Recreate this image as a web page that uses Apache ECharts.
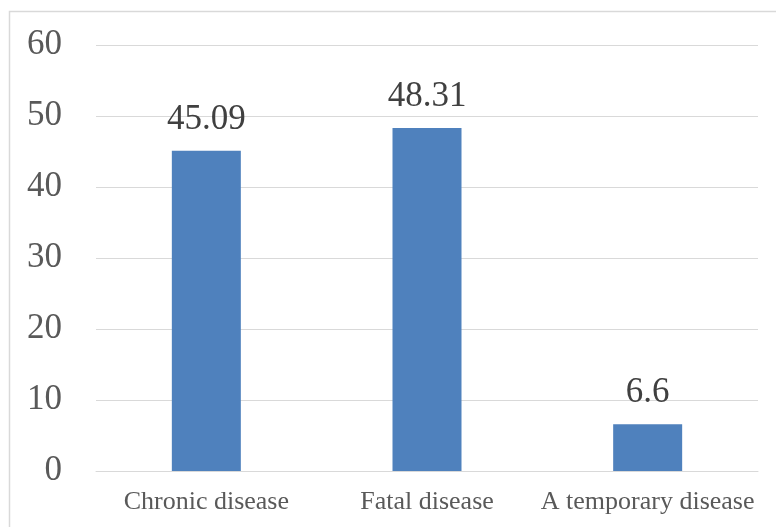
<!DOCTYPE html>
<html>
<head>
<meta charset="utf-8">
<script src="https://cdn.jsdelivr.net/npm/echarts@6/dist/echarts.min.js"></script>
<style>
  html, body { margin: 0; padding: 0; background: #ffffff; }
  #chart { width: 776px; height: 527px; }
</style>
</head>
<body>
<div id="chart"></div>
<script>
// Disease type shares
var categories = ['Chronic disease', 'Fatal disease', 'A temporary disease'];
var values = [45.09, 48.31, 6.6];
var yTicks = { min: 0, max: 60, interval: 10 };

var chart = echarts.init(document.getElementById('chart'), null, { renderer: 'canvas' });
var serif = '"Liberation Serif", "Times New Roman", serif';

chart.setOption({
  animation: false,
  backgroundColor: '#ffffff',
  graphic: [{
    type: 'rect',
    shape: { x: 9.5, y: 11.5, width: 800, height: 600 },
    style: { fill: 'none', stroke: '#d9d9d9', lineWidth: 1.5 },
    silent: true
  }],
  grid: { left: 96, right: 18, top: 45, bottom: 56, containLabel: false },
  xAxis: {
    type: 'category',
    data: categories,
    axisLine: { show: true, lineStyle: { color: '#d9d9d9', width: 1 } },
    axisTick: { show: false },
    axisLabel: {
      color: '#595959', fontFamily: serif, fontSize: 26, margin: 18,
      interval: 0, hideOverlap: false
    }
  },
  yAxis: {
    type: 'value',
    min: yTicks.min,
    max: yTicks.max,
    interval: yTicks.interval,
    axisLine: { show: false },
    axisTick: { show: false },
    axisLabel: { color: '#595959', fontFamily: serif, fontSize: 35, margin: 34 },
    splitLine: { lineStyle: { color: '#d9d9d9', width: 1 } }
  },
  series: [{
    type: 'bar',
    data: values,
    barWidth: 69,
    itemStyle: { color: '#4f81bd' },
    label: {
      show: true,
      position: 'top',
      distance: 14,
      color: '#404040',
      fontFamily: serif,
      fontSize: 35
    }
  }]
});
</script>
</body>
</html>
